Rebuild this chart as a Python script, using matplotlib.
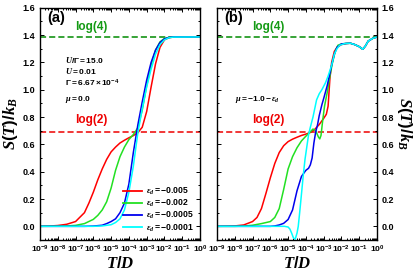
import numpy as np
import matplotlib
matplotlib.use("Agg")
import matplotlib.pyplot as plt
from matplotlib.ticker import FixedLocator, MultipleLocator, LogLocator, NullFormatter

plt.rcParams['mathtext.fontset'] = 'custom'
plt.rcParams['mathtext.rm'] = 'Liberation Sans:bold'
plt.rcParams['mathtext.bf'] = 'Liberation Sans:bold'
plt.rcParams['mathtext.sf'] = 'Liberation Sans:bold'
plt.rcParams['mathtext.it'] = 'Liberation Serif:italic:bold'
plt.rcParams['font.family'] = ['Liberation Sans', 'DejaVu Sans']
plt.rcParams['font.weight'] = 'bold'

# ---------------- data (log10(T/D), S/kB) ----------------
eps_labels = [r'$\mathit{\epsilon_d = -0.005}$', r'$\mathit{\epsilon_d = -0.002}$',
              r'$\mathit{\epsilon_d = -0.0005}$', r'$\mathit{\epsilon_d = -0.0001}$']
colors = ['#ff0000', '#22e022', '#0000ee', '#00ffff']

# panel (a)
a_red_logT = [-9, -8.5, -8, -7.5, -7, -6.5, -6.25, -6, -5.75, -5.5, -5.25, -5, -4.75, -4.5, -4.25, -4,
              -3.75, -3.5, -3.25, -3, -2.75, -2.5, -2.25, -2, -1.75, -1.5, -1, 0]
a_red_S = [0, 0.002, 0.006, 0.015, 0.035, 0.1, 0.17, 0.25, 0.34, 0.42, 0.49, 0.545, 0.58, 0.61, 0.63, 0.648,
           0.664, 0.685, 0.725, 0.84, 1.02, 1.19, 1.31, 1.365, 1.38, 1.385, 1.386, 1.386]
a_green_logT = [-9, -8, -7.5, -7, -6.5, -6, -5.75, -5.5, -5.25, -5, -4.75, -4.5, -4.25, -4, -3.75, -3.5,
                -3.25, -3, -2.75, -2.5, -2.25, -2, -1.75, -1.5, 0]
a_green_S = [0, 0.001, 0.003, 0.007, 0.02, 0.051, 0.08, 0.12, 0.18, 0.28, 0.41, 0.51, 0.58, 0.635, 0.672, 0.72,
             0.85, 1.03, 1.18, 1.29, 1.35, 1.375, 1.383, 1.386, 1.386]
a_blue_logT = [-9, -6.5, -6, -5.5, -5.25, -5, -4.75, -4.5, -4.25, -4, -3.75, -3.5, -3.25, -3, -2.75, -2.5,
               -2.25, -2, -1.75, -1.5, 0]
a_blue_S = [0, 0, 0.002, 0.008, 0.02, 0.035, 0.055, 0.1, 0.17, 0.31, 0.54, 0.74, 0.91, 1.07, 1.2, 1.29,
            1.345, 1.372, 1.382, 1.386, 1.386]
a_cyan_logT = [-9, -6, -5.5, -5, -4.75, -4.5, -4.25, -4, -3.75, -3.5, -3.25, -3, -2.75, -2.5, -2.25, -2,
               -1.75, -1.5, 0]
a_cyan_S = [0, 0, 0.003, 0.012, 0.028, 0.055, 0.12, 0.25, 0.44, 0.68, 0.86, 1.02, 1.15, 1.26, 1.33, 1.365,
            1.38, 1.385, 1.386]

# panel (b)
b_red_logT = [-9, -8.5, -8, -7.5, -7, -6.75, -6.5, -6.25, -6, -5.75, -5.5, -5.25, -5, -4.75, -4.5, -4.25, -4,
              -3.75, -3.5, -3.25, -3, -2.85, -2.75, -2.65, -2.55, -2.4, -2.25, -2, -1.75, -1.5, -1.25, -1,
              -0.8, -0.65, -0.5, -0.25, 0]
b_red_S = [0, 0.001, 0.003, 0.01, 0.035, 0.065, 0.13, 0.24, 0.355, 0.46, 0.54, 0.59, 0.62, 0.638, 0.652, 0.665,
           0.675, 0.687, 0.71, 0.745, 0.79, 0.82, 0.88, 1.08, 1.2, 1.28, 1.31, 1.33, 1.338, 1.34, 1.33, 1.315,
           1.296, 1.32, 1.355, 1.375, 1.386]
b_green_logT = [-9, -8, -7.5, -7, -6.5, -6, -5.75, -5.5, -5.25, -5, -4.75, -4.5, -4.25, -4, -3.75, -3.6, -3.45,
                -3.3, -3.22, -3.15, -3.05, -2.95, -2.8, -2.65, -2.5, -2.35, -2.2, -2, -1.75, -1.5, -1.25, -1,
                -0.8, -0.65, -0.5, -0.25, 0]
b_green_S = [0, 0, 0.002, 0.008, 0.02, 0.035, 0.065, 0.13, 0.27, 0.42, 0.51, 0.575, 0.625, 0.66, 0.692, 0.712,
             0.7, 0.655, 0.64, 0.665, 0.78, 0.88, 0.98, 1.1, 1.2, 1.28, 1.325, 1.335, 1.338, 1.34, 1.33, 1.315,
             1.296, 1.32, 1.355, 1.375, 1.386]
b_blue_logT = [-9, -6, -5.75, -5.5, -5.25, -5, -4.75, -4.5, -4.25, -4, -3.85, -3.75, -3.65, -3.55, -3.45, -3.35,
               -3.25, -3.1, -3, -2.8, -2.55, -2.4, -2.25, -2, -1.75, -1.5, -1.25, -1, -0.8, -0.65, -0.5, -0.25, 0]
b_blue_S = [0, 0, 0.003, 0.01, 0.022, 0.05, 0.12, 0.26, 0.365, 0.41, 0.425, 0.45, 0.5, 0.61, 0.69, 0.74,
            0.81, 0.89, 0.935, 1.03, 1.18, 1.26, 1.31, 1.335, 1.338, 1.34, 1.33, 1.315, 1.296, 1.32, 1.355,
            1.375, 1.386]
b_cyan_logT = [-9, -5.2, -5.0, -4.9, -4.8, -4.7, -4.6, -4.5, -4.43, -4.35, -4.24, -4.15, -4.05, -3.95, -3.85,
               -3.75, -3.6, -3.4, -3.25, -3.1, -2.9, -2.75, -2.55, -2.4, -2.25, -2.1, -1.8, -1.5, -1.25, -1,
               -0.8, -0.65, -0.5, -0.25, 0]
b_cyan_S = [0, 0, -0.005, -0.02, -0.05, -0.085, -0.094, -0.05, 0.0, 0.1, 0.248, 0.37, 0.49, 0.58, 0.67,
            0.725, 0.8, 0.925, 0.97, 1.0, 1.05, 1.1, 1.18, 1.26, 1.3, 1.325, 1.338, 1.34, 1.33, 1.315, 1.296,
            1.32, 1.355, 1.375, 1.386]

ref_levels = [np.log(4), np.log(2)]
ref_labels = ['log(4)', 'log(2)']
ref_label_y = [1.46, 0.775]
ref_colors = ['#008a00', '#ee0000']
ref_text_colors = ['#139a13', '#ee0000']

xtick_exps = list(range(-9, 1))
xtick_labels = [r'$10^{%d}$' % e for e in xtick_exps]
ytick_vals = [0.0, 0.2, 0.4, 0.6, 0.8, 1.0, 1.2, 1.4, 1.6]

panel_a = [(a_red_logT, a_red_S), (a_green_logT, a_green_S), (a_blue_logT, a_blue_S), (a_cyan_logT, a_cyan_S)]
panel_b = [(b_red_logT, b_red_S), (b_green_logT, b_green_S), (b_blue_logT, b_blue_S), (b_cyan_logT, b_cyan_S)]

fig = plt.figure(figsize=(4.16, 2.8), dpi=100)
ax1 = fig.add_axes([40/416, 1-240/280, 160/416, 232.3/280])
ax2 = fig.add_axes([217/416, 1-240/280, 160/416, 232.3/280])

for ax, panel in [(ax1, panel_a), (ax2, panel_b)]:
    for lvl, c in zip(ref_levels, ref_colors):
        ax.axhline(lvl, color=c, lw=1.1, ls=(0, (4, 2)), zorder=1)
    for (lt, s), c, lab in zip(panel, colors, eps_labels):
        ax.plot(10.0 ** np.array(lt), s, color=c, lw=1.1, label=lab, zorder=2)
    ax.set_xscale('log')
    ax.set_xlim(1e-9, 1e0)
    ax.set_ylim(-0.1, 1.6)
    ax.xaxis.set_major_locator(FixedLocator([10.0 ** e for e in xtick_exps]))
    ax.set_xticklabels(xtick_labels)
    ax.xaxis.set_minor_locator(LogLocator(base=10, subs=np.arange(2, 10), numticks=20))
    ax.xaxis.set_minor_formatter(NullFormatter())
    ax.set_yticks(ytick_vals)
    ax.set_yticklabels(['%.1f' % v for v in ytick_vals])
    ax.yaxis.set_minor_locator(MultipleLocator(0.1))
    ax.tick_params(which='both', direction='in', top=True, right=True, left=True, bottom=True,
                   labelsize=6.5, width=0.7)
    ax.tick_params(which='major', length=3)
    ax.tick_params(which='minor', length=1.6)
    ax.tick_params(axis='x', pad=3, labelsize=6.1)
    for sp in ax.spines.values():
        sp.set_linewidth(1.0)
    for lab in ax.get_xticklabels() + ax.get_yticklabels():
        lab.set_fontweight('bold')
    ax.set_xlabel(r'$\mathit{T/D}$', fontsize=12, labelpad=0)

ax1.set_ylabel(r'$\mathit{S(T)/k_B}$', fontsize=12, labelpad=2)
ax2.tick_params(axis='y', labelleft=False, labelright=True)
ax2.yaxis.set_label_position('right')
ax2.set_ylabel(r'$\mathit{S(T)/k_B}$', fontsize=12, rotation=270, labelpad=14)

# panel labels and annotations
ax1.text(0.045, 0.955, '(a)', transform=ax1.transAxes, fontsize=10.5, fontweight='bold', va='center', ha='left')
ax2.text(0.045, 0.955, '(b)', transform=ax2.transAxes, fontsize=10.5, fontweight='bold', va='center', ha='left')
for ax in (ax1, ax2):
    for y, lab, c in zip(ref_label_y, ref_labels, ref_text_colors):
        ax.text(0.22, y, lab, transform=ax.get_yaxis_transform(), color=c, fontsize=8.5,
                fontweight='bold', ha='left', va='center')

params = [r'$\mathit{U/\Gamma = 15.0}$', r'$\mathit{U = 0.01}$',
          r'$\mathit{\Gamma = 6.67\times 10^{-4}}$', r'$\mathit{\mu = 0.0}$']
param_y = [1.215, 1.135, 1.045, 0.925]
for t, y in zip(params, param_y):
    ax1.text(10 ** -7.6, y, t, fontsize=6, ha='left', va='center')
ax2.text(10 ** -8.0, 0.925, r'$\mathit{\mu = -1.0 - \epsilon_d}$', fontsize=6, ha='left', va='center')

leg = ax1.legend(loc='lower right', bbox_to_anchor=(1.0, 0.0), frameon=False, fontsize=6.2,
                 handlelength=2.2, handletextpad=0.5, labelspacing=0.12, borderaxespad=0.35)
for l in leg.get_lines():
    l.set_linewidth(1.3)

fig.savefig('out.png', dpi=100)
